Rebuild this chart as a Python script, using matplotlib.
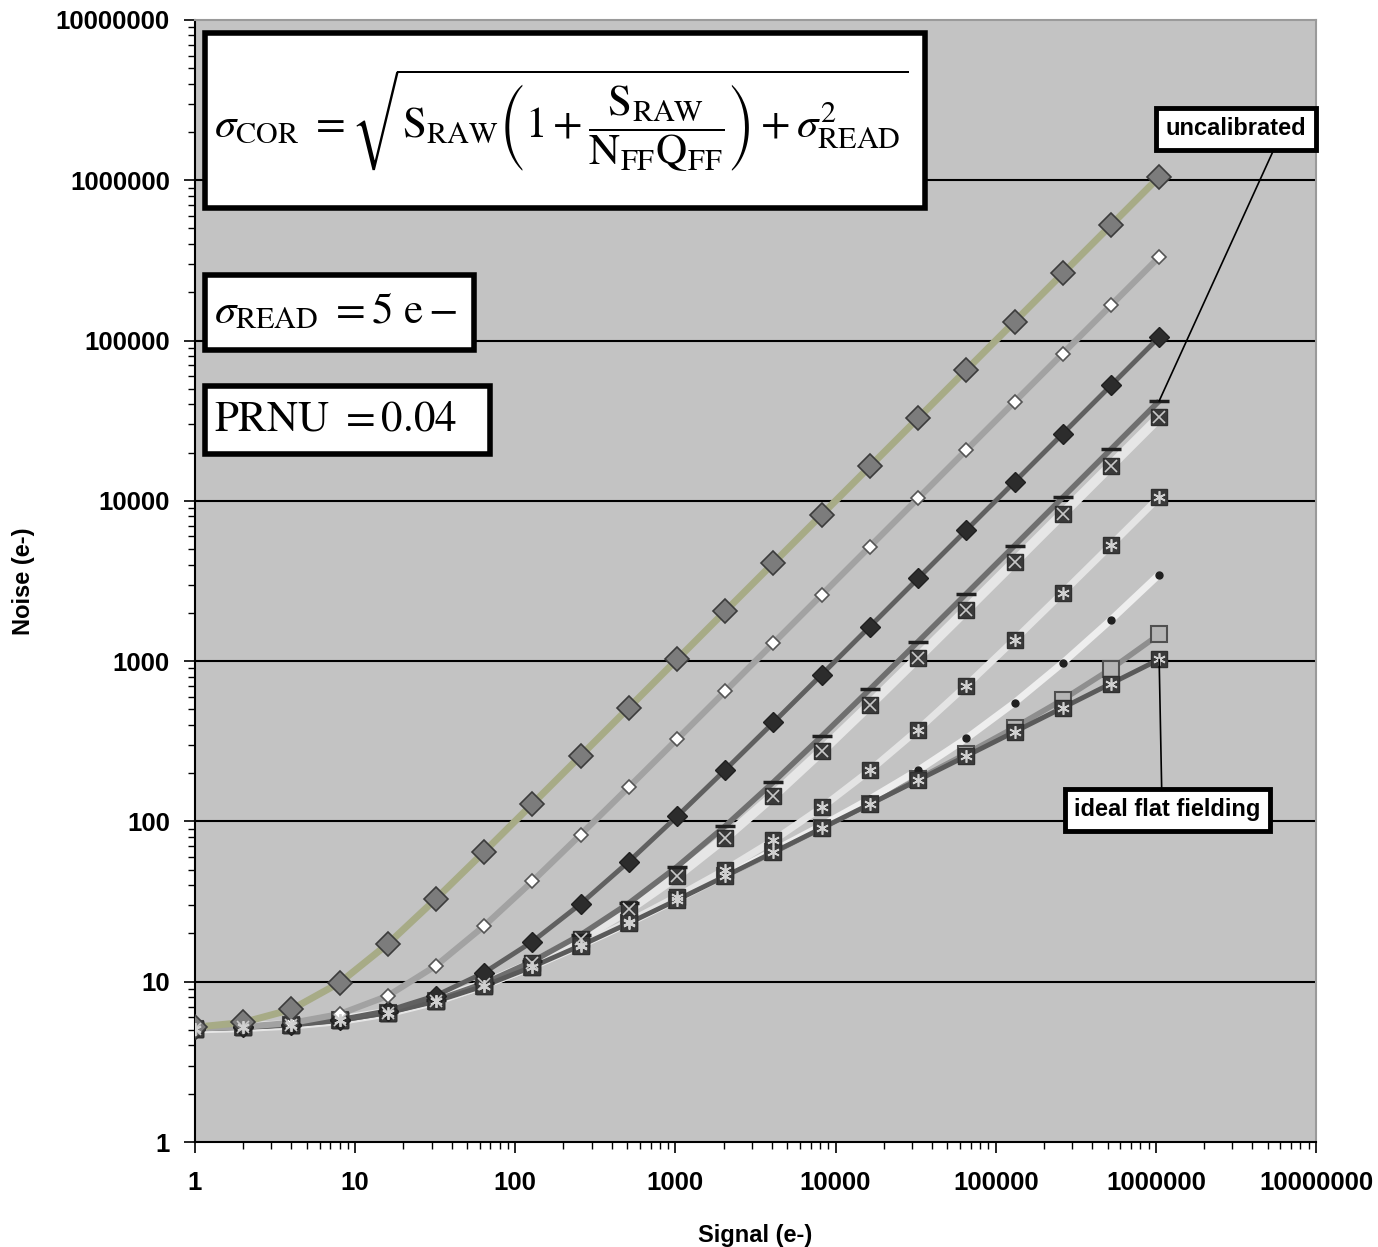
import matplotlib

matplotlib.use("Agg")
import matplotlib.pyplot as plt
from matplotlib.patches import Rectangle
from matplotlib.ticker import FixedLocator, FixedFormatter, LogLocator, NullFormatter

# Signal levels (e-) and noise curves
signal = [1, 2, 4, 8, 16, 32, 64, 128, 256, 512, 1024, 2048, 4096, 8192,
          16384, 32768, 65536, 131072, 262144, 524288, 1048576]

noise_nq1 = [5.2, 5.57, 6.71, 9.85, 17.2, 32.9, 64.7, 128.6, 256.6, 512.5, 1024.5,
             2048.5, 4096.5, 8192.5, 16384, 32769, 65537, 131073, 262145, 524289, 1048577]
noise_nq10 = [5.11, 5.23, 5.53, 6.28, 8.16, 12.6, 22.3, 42.3, 82.7, 163.6, 325.4,
              649.2, 1297, 2592, 5183, 10364, 20726, 41450, 82899, 165796, 331590]
noise_nq100 = [5.1, 5.2, 5.4, 5.8, 6.6, 8.2, 11.4, 17.8, 30.6, 56.2, 107.4,
               209.8, 414.6, 824.2, 1643, 3282, 6559, 13112, 26219, 52434, 104863]
noise_uncal = [5.1, 5.2, 5.39, 5.75, 6.44, 7.66, 9.78, 13.4, 19.6, 30.9, 52.2,
               93.7, 176.0, 340.0, 667.8, 1323, 2634, 5255, 10498, 20984, 41956]
noise_nq1e3 = [5.1, 5.2, 5.39, 5.75, 6.42, 7.62, 9.65, 13.0, 18.6, 28.3, 45.8,
               79.2, 144.6, 274.5, 533.7, 1052, 2088, 4161, 8306, 16595, 33175]
noise_nq1e4 = [5.1, 5.2, 5.39, 5.75, 6.41, 7.56, 9.46, 12.4, 17.0, 23.7, 34.0,
               49.9, 76.2, 122.2, 208.0, 374.4, 703.6, 1360, 2671, 5293, 10536]
noise_nq1e5 = [5.1, 5.2, 5.39, 5.74, 6.4, 7.55, 9.44, 12.4, 16.8, 23.2, 32.6,
               46.0, 65.5, 94.3, 138.2, 208.6, 329.4, 550.4, 974.3, 1809, 3470]
noise_nq1e6 = [5.1, 5.2, 5.39, 5.74, 6.4, 7.55, 9.43, 12.4, 16.8, 23.2, 32.4,
               45.6, 64.3, 91.0, 129.1, 184.0, 264.3, 385.1, 575.2, 894.0, 1466]
noise_ideal = [5.1, 5.2, 5.39, 5.74, 6.4, 7.55, 9.43, 12.4, 16.8, 23.2, 32.4,
               45.5, 64.2, 90.7, 128.1, 181.1, 256.0, 362.1, 512.0, 724.1, 1024]

decades = [1, 10, 100, 1000, 10000, 100000, 1000000, 10000000]
decade_labels = ["1", "10", "100", "1000", "10000", "100000", "1000000", "10000000"]

plt.rcParams["font.family"] = ["Liberation Sans", "DejaVu Sans"]
plt.rcParams["mathtext.fontset"] = "stix"

fig = plt.figure(figsize=(13.78, 12.47), dpi=100)
ax = fig.add_axes([0.1415, 0.0842, 0.8135, 0.8998])
ax.set_facecolor("#c3c3c3")
ax.set_xscale("log")
ax.set_yscale("log")
ax.set_xlim(1, 1e7)
ax.set_ylim(1, 1e7)

for y in decades[1:-1]:
    ax.axhline(y, color="black", lw=1.5, zorder=1)


def curve(yv, lc, lw, **mk):
    ax.plot(signal, yv, color=lc, lw=lw, zorder=2, solid_capstyle="butt")
    if mk:
        ax.plot(signal, yv, ls="none", zorder=3, **mk)


curve(noise_nq1e6, "#8e8e8e", 4, marker="s", ms=11, mfc="#b5b5b5", mec="#505050", mew=1.5)
curve(noise_nq1e5, "#eeeeee", 5, marker="o", ms=5, mfc="#202020", mec="#202020")
curve(noise_nq1e4, "#e4e4e4", 5, marker="s", ms=12, mfc="#3a3a3a", mec="#303030")
ax.plot(signal, noise_nq1e4, ls="none", marker=(6, 2, 0), ms=9, mec="#d0d0d0", mew=1.2, zorder=4)
curve(noise_nq1e3, "#e6e6e6", 7, marker="s", ms=12, mfc="#3a3a3a", mec="#303030")
ax.plot(signal, noise_nq1e3, ls="none", marker="x", ms=8, mec="#c8c8c8", mew=1.2, zorder=4)
curve(noise_uncal, "#6f6f6f", 4, marker="_", ms=14, mec="#202020", mew=2.5)
curve(noise_ideal, "#5a5a5a", 3.5, marker="s", ms=12, mfc="#3a3a3a", mec="#303030")
ax.plot(signal, noise_ideal, ls="none", marker=(6, 2, 0), ms=9, mec="#d0d0d0", mew=1.2, zorder=4)
curve(noise_nq100, "#606060", 3.5, marker="D", ms=10, mfc="#2c2c2c", mec="#202020")
curve(noise_nq10, "#a2a2a2", 4.5, marker="D", ms=7, mfc="white", mec="#555555", mew=1.2)
curve(noise_nq1, "#a7ab86", 5, marker="D", ms=12, mfc="#7c7c7c", mec="#3c3c3c", mew=1.2)

for axis in (ax.xaxis, ax.yaxis):
    axis.set_major_locator(FixedLocator(decades))
    axis.set_major_formatter(FixedFormatter(decade_labels))
    axis.set_minor_locator(LogLocator(base=10, subs=range(2, 10), numticks=20))
    axis.set_minor_formatter(NullFormatter())
ax.tick_params(which="major", length=8, width=1.2, labelsize=18.5)
ax.tick_params(which="minor", length=5, width=1.0)
ax.tick_params(axis="x", which="major", pad=13)
ax.tick_params(axis="y", which="major", pad=10)
for lab in ax.get_xticklabels() + ax.get_yticklabels():
    lab.set_fontweight("bold")

ax.set_xlabel("Signal (e-)", fontsize=17, fontweight="bold", labelpad=21)
ax.set_ylabel("Noise (e-)", fontsize=17, fontweight="bold", labelpad=15)

for side in ("left", "bottom"):
    ax.spines[side].set_color("black")
    ax.spines[side].set_linewidth(1.5)
for side in ("top", "right"):
    ax.spines[side].set_color("#9a9a9a")
    ax.spines[side].set_linewidth(1.5)

# equation boxes
boxes = [
    ((0.009, 0.8324), 0.642, 0.1556,
     r"$\sigma_{\mathrm{COR}}\ =\sqrt{\mathrm{S}_{\mathrm{RAW}}\left(1+\dfrac{\mathrm{S}_{\mathrm{RAW}}}"
     r"{\mathrm{N}_{\mathrm{FF}}\mathrm{Q}_{\mathrm{FF}}}\right)+\sigma_{\mathrm{READ}}^{2}}$", 31),
    ((0.009, 0.706), 0.240, 0.067, r"$\sigma_{\mathrm{READ}}\ =5\ \mathrm{e}-$", 31),
    ((0.009, 0.613), 0.254, 0.061, r"$\mathrm{PRNU}\ =0.04$", 31),
]
for (x0, y0), w, h, txt, fs in boxes:
    ax.add_patch(Rectangle((x0, y0), w, h, transform=ax.transAxes, facecolor="white",
                           edgecolor="black", lw=4, zorder=6, clip_on=False))
    ax.text(x0 + 0.008, y0 + h / 2, txt, transform=ax.transAxes, fontsize=fs,
            ha="left", va="center", zorder=7)

box_style = dict(boxstyle="square,pad=0.4", facecolor="white", edgecolor="black", lw=3.5)
ax.annotate("uncalibrated", xy=(signal[-1], noise_uncal[-1]), xycoords="data",
            xytext=(0.9285, 0.903), textcoords="axes fraction", ha="center", va="center",
            fontsize=17, fontweight="bold", bbox=box_style, zorder=8,
            arrowprops=dict(arrowstyle="-", color="black", lw=1.2, shrinkA=0, shrinkB=0,
                            relpos=(0.8, 0.0)))
ax.annotate("ideal flat fielding", xy=(signal[-1], noise_ideal[-1]), xycoords="data",
            xytext=(0.8675, 0.296), textcoords="axes fraction", ha="center", va="center",
            fontsize=17, fontweight="bold", bbox=box_style, zorder=8,
            arrowprops=dict(arrowstyle="-", color="black", lw=1.2, shrinkA=0, shrinkB=0,
                            relpos=(0.47, 1.0)))

fig.savefig("out.png", dpi=100)
